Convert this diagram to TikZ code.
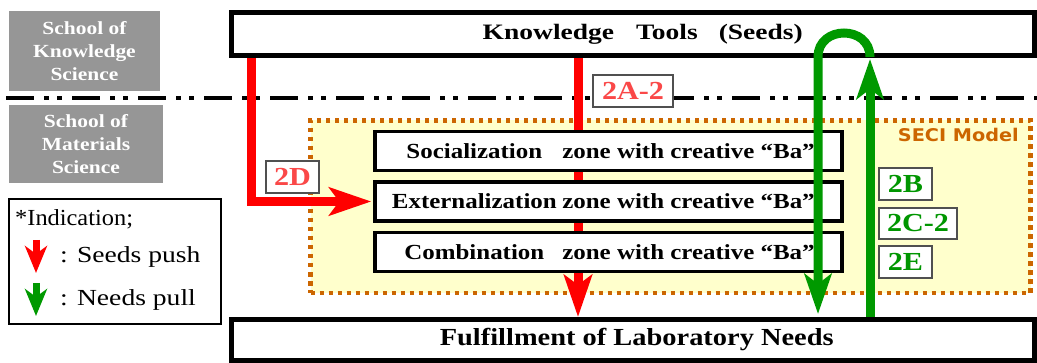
\documentclass[tikz,border=0pt]{standalone}
\usepackage{graphicx}
\usepackage{fontspec}
\setmainfont{Liberation Serif}[FakeStretch=1.16]
\newfontfamily\widefont{Liberation Serif}[FakeStretch=1.25]
\newfontfamily\legendfont{Liberation Serif}
\newfontfamily\secifont{DejaVu Sans}[FakeStretch=1.1]
\usetikzlibrary{arrows.meta,calc}
\pgfdeclarelayer{bg}\pgfdeclarelayer{mid}\pgfdeclarelayer{front}
\pgfsetlayers{bg,mid,main,front}
\definecolor{arrred}{RGB}{255,0,0}
\definecolor{arrgreen}{RGB}{0,153,0}
\definecolor{lblred}{RGB}{250,72,72}
\definecolor{lblgreen}{RGB}{0,150,0}
\definecolor{schoolgray}{RGB}{150,150,150}
\definecolor{seciyellow}{RGB}{255,255,204}
\definecolor{seciorange}{RGB}{204,102,0}
\definecolor{lblborder}{RGB}{80,80,80}
\tikzset{
 mainbox/.style={draw=black, line width=5pt, fill=white, minimum width=803.5pt, inner sep=0pt},
 zonebox/.style={draw=black, line width=3.5pt, fill=white, minimum width=467pt, minimum height=39pt, inner sep=0pt, font=\fontsize{21.5}{24}\selectfont\bfseries},
 school/.style={fill=schoolgray, text=white, align=center, inner sep=0pt, font=\fontsize{18.5}{23}\selectfont\bfseries},
 seedlbl/.style={draw=lblborder, line width=1.5pt, fill=white, text=lblred, inner sep=0pt, minimum height=32pt, font=\fontsize{26}{28}\selectfont\bfseries},
 needlbl/.style={seedlbl, text=lblgreen},
 pusharrow/.style={draw=arrred, line width=9pt, -{Stealth[length=42pt,width=28pt,inset=10pt]}},
 pullarrow/.style={draw=arrgreen, line width=9pt, -{Stealth[length=40pt,width=27pt,inset=10pt]}},
 legarrow/.style={line width=7pt, -{Stealth[length=27pt,width=22pt,inset=8pt]}},
 legtext/.style={anchor=base west, inner sep=0pt, font=\legendfont\fontsize{23}{26}\selectfont},
}
\begin{document}
\begin{tikzpicture}[x=1pt,y=-1pt]
\useasboundingbox (0,0) rectangle (1037,363);

\begin{pgfonlayer}{bg}
\node[draw=seciorange, fill=seciyellow, line width=4.5pt, dash pattern=on 4.5pt off 4.5pt, minimum width=720pt, minimum height=172.5pt, inner sep=0pt] (seci) at (670.5,206.75) {};
\coordinate (dl) at (6,98.3);
\coordinate (dr) at (1037,98.3);
\draw[line width=4pt, dash pattern=on 28pt off 10pt on 5pt off 8pt on 5pt off 10pt] (dl) -- (dr);
\end{pgfonlayer}

\node[font={\secifont\bfseries\fontsize{17.5}{20}\selectfont}, text=seciorange, anchor=base east, inner sep=0pt] (secilbl) at (1019,142) {SECI Model};

\node[school, minimum width=151pt, minimum height=80pt] (sks) at (84.5,51) {School of\\Knowledge\\Science};
\node[school, minimum width=154pt, minimum height=78pt] (sms) at (86,144) {School of\\Materials\\Science};

\node[mainbox, minimum height=43.5pt, font=\widefont\fontsize{22}{26}\selectfont\bfseries] (top) at (632.75,34.25) {\hspace*{20pt}Knowledge\hspace{22pt}Tools\hspace{21pt}(Seeds)};
\node[mainbox, minimum height=41pt, font=\fontsize{24.5}{28}\selectfont\bfseries] (bot) at (632.75,340) {\hspace*{8pt}Fulfillment of Laboratory Needs};

\node[zonebox] (soc) at (608.5,151) {\makebox[176pt][c]{Socialization}zone with creative “Ba”\hspace*{16pt}};
\node[zonebox] (ext) at (608.5,201.5) {\makebox[176pt][c]{Externalization}zone with creative “Ba”\hspace*{16pt}};
\node[zonebox] (com) at (608.5,252) {\makebox[176pt][c]{Combination}zone with creative “Ba”\hspace*{16pt}};

\coordinate (r1) at (251,0);
\coordinate (r2) at (578,0);
\begin{pgfonlayer}{mid}
\draw[pusharrow, shorten >=2pt] (top.south -| r1) |- (ext.west);
\draw[pusharrow] (top.south -| r2) -- (bot.north -| r2);
\end{pgfonlayer}

\coordinate (gL) at (818,57);
\coordinate (gR) at (870,57);
\coordinate (gRtip) at (870,59);
\begin{pgfonlayer}{front}
\draw[pullarrow] (bot.north -| gR) -- (gRtip);
\draw[pullarrow, shorten >=3pt] (gR) .. controls (870,25) and (818,25) .. (gL) -- (bot.north -| gL);
\end{pgfonlayer}

\node[seedlbl, minimum width=80pt] (l2a) at (633,91) {2A-2};
\node[seedlbl, minimum width=53pt] (l2d) at (292.5,177) {2D};
\node[needlbl, minimum width=53pt] (l2b) at (905.5,184) {2B};
\node[needlbl, minimum width=78pt, minimum height=31pt] (l2c) at (918,223.5) {2C-2};
\node[needlbl, minimum width=53pt] (l2e) at (905.5,262) {2E};

\node[draw=black, line width=1.3pt, fill=white, minimum width=212pt, minimum height=125pt, inner sep=0pt] (leg) at (115,261.5) {};
\node[legtext] (ind) at (15,226) {\scalebox{1.06}[1]{*Indication;}};
\node[legtext] (push) at (60,263) {\scalebox{1.2}[1]{: Seeds push}};
\node[legtext] (pull) at (60,306) {\scalebox{1.2}[1]{: Needs pull}};
\coordinate (la1) at (36,240);
\coordinate (la2) at (36,273);
\coordinate (lb1) at (36,283);
\coordinate (lb2) at (36,316);
\draw[legarrow, draw=arrred] (la1) -- (la2);
\draw[legarrow, draw=arrgreen] (lb1) -- (lb2);
\end{tikzpicture}
\end{document}
